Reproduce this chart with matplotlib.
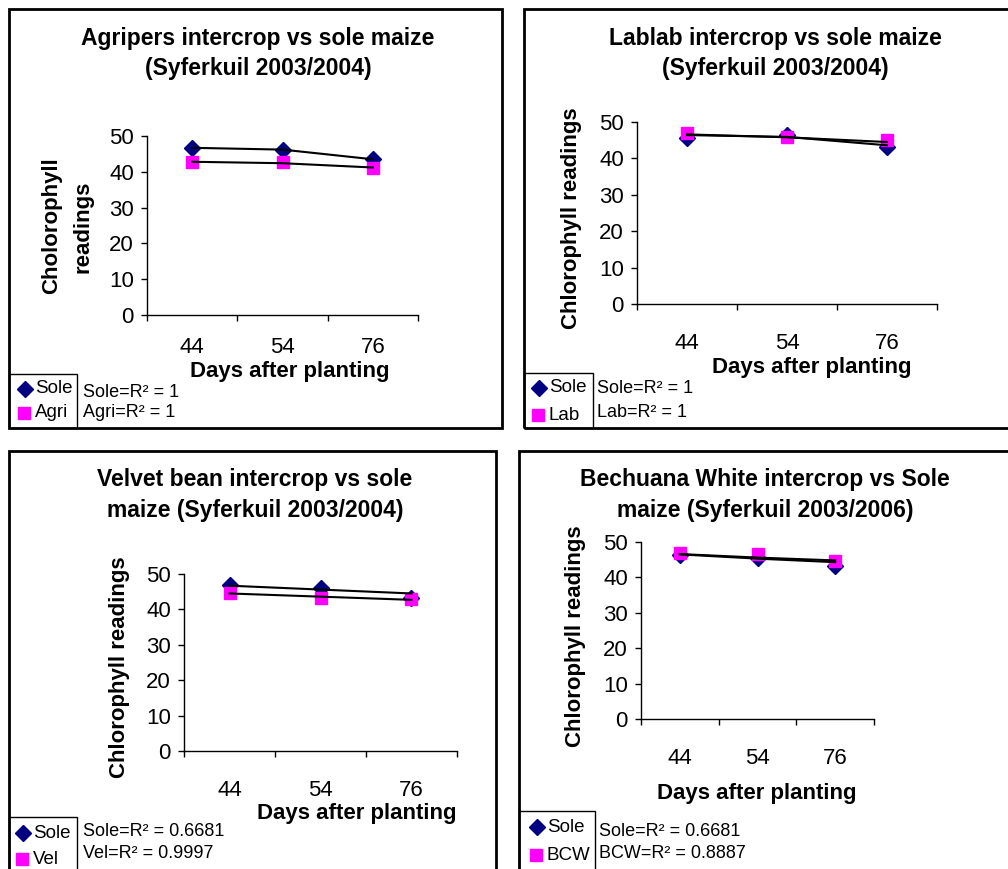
import numpy as np
import matplotlib
matplotlib.use("Agg")
import matplotlib.pyplot as plt
from matplotlib.patches import Rectangle
from matplotlib.lines import Line2D

plt.rcParams["font.family"] = ["Liberation Sans", "DejaVu Sans"]

W, H = 1008, 869

# data
days = ["44", "54", "76"]

agri_sole = [46.7, 46.1, 43.5]
agri_inter = [42.8, 42.6, 41.0]
agri_sole_trend = [46.7, 46.2, 43.5]
agri_inter_trend = [42.8, 42.4, 41.2]

lab_sole = [45.7, 46.3, 43.1]
lab_inter = [47.0, 45.9, 45.0]
lab_sole_trend = [46.4, 45.9, 43.6]
lab_inter_trend = [46.6, 45.8, 44.5]

vel_sole = [46.9, 46.1, 43.3]
vel_inter = [44.7, 43.3, 42.9]
vel_sole_trend = [46.7, 45.6, 44.5]
vel_inter_trend = [44.5, 43.6, 42.7]

bcw_sole = [46.2, 45.6, 43.2]
bcw_inter = [46.9, 46.7, 44.7]
bcw_sole_trend = [46.5, 45.3, 44.3]
bcw_inter_trend = [46.6, 45.6, 44.8]

titles = [
    ["Agripers intercrop vs sole maize", "(Syferkuil 2003/2004)"],
    ["Lablab intercrop vs sole maize", "(Syferkuil 2003/2004)"],
    ["Velvet bean intercrop vs sole", "maize (Syferkuil 2003/2004)"],
    ["Bechuana White intercrop vs Sole", "maize (Syferkuil 2003/2006)"],
]
ylabels = [["Cholorophyll", "readings"], ["Chlorophyll readings"],
           ["Chlorophyll readings"], ["Chlorophyll readings"]]
inter_names = ["Agri", "Lab", "Vel", "BCW"]
r2_sole = ["1", "1", "0.6681", "0.6681"]
r2_inter = ["1", "1", "0.9997", "0.8887"]

series = [
    (agri_sole, agri_inter, agri_sole_trend, agri_inter_trend),
    (lab_sole, lab_inter, lab_sole_trend, lab_inter_trend),
    (vel_sole, vel_inter, vel_sole_trend, vel_inter_trend),
    (bcw_sole, bcw_inter, bcw_sole_trend, bcw_inter_trend),
]

# layout in pixels (x from left, y from top)
panels = [
    dict(box=(9, 9, 502, 428), ax=(147, 136, 418, 315), title_x=258, title_y=(38, 69),
         ylab=[(52, 226), (83, 227)], xlab=(290, 372), xpad=16,
         leg=(9, 374, 77, 428), leg_d=(25, 389), leg_s=(24, 413), leg_tx=35,
         r2=(83, 393, 413)),
    dict(box=(524, 9, 1020, 428), ax=(637, 122, 937, 304), title_x=775, title_y=(38, 69),
         ylab=[(572, 218)], xlab=(812, 367), xpad=21,
         leg=(524, 373, 593, 428), leg_d=(539, 388), leg_s=(538, 415), leg_tx=549,
         r2=(597, 389, 413)),
    dict(box=(9, 451, 496, 880), ax=(184, 574, 457, 751), title_x=255, title_y=(480, 511),
         ylab=[(119, 667)], xlab=(357, 813), xpad=21,
         leg=(9, 817, 77, 880), leg_d=(23, 833), leg_s=(22, 859), leg_tx=33,
         r2=(83, 831, 853)),
    dict(box=(519, 451, 1020, 880), ax=(641, 542, 874, 719), title_x=765, title_y=(480, 511),
         ylab=[(575, 636)], xlab=(757, 794), xpad=21,
         leg=(519, 811, 595, 880), leg_d=(537, 827), leg_s=(536, 855), leg_tx=547,
         r2=(599, 831, 854)),
]


def fx(x):
    return x / W


def fy(y):
    return 1 - y / H


fig = plt.figure(figsize=(W / 100, H / 100), dpi=100)
navy = "#000080"
magenta = "#FF00FF"

for i, p in enumerate(panels):
    sole, inter, sole_tr, inter_tr = series[i]

    x0, y0, x1, y1 = p["box"]
    fig.add_artist(Rectangle((fx(x0), fy(y1)), (x1 - x0) / W, (y1 - y0) / H,
                             transform=fig.transFigure, fill=False, ec="black", lw=2))

    for line, ty in zip(titles[i], p["title_y"]):
        fig.text(fx(p["title_x"]), fy(ty), line, ha="center", va="center",
                 fontsize=16.5, fontweight="bold")

    ax0, ay0, ax1, ay1 = p["ax"]
    ax = fig.add_axes([fx(ax0), fy(ay1), (ax1 - ax0) / W, (ay1 - ay0) / H])
    ax.patch.set_alpha(0)
    ax.set_xlim(-0.5, 2.5)
    ax.set_ylim(0, 50)
    ax.set_yticks(range(0, 51, 10))
    ax.set_xticks([-0.5, 0.5, 1.5, 2.5])
    ax.set_xticklabels([])
    ax.set_xticks([0, 1, 2], minor=True)
    ax.set_xticklabels(days, minor=True)
    ax.tick_params(which="major", length=4.5, width=1, direction="out", labelsize=16, pad=5)
    ax.tick_params(axis="x", which="minor", length=0, labelsize=16, pad=p["xpad"])
    for s in ["top", "right"]:
        ax.spines[s].set_visible(False)
    for s in ["left", "bottom"]:
        ax.spines[s].set_linewidth(1)

    x = np.arange(len(days))
    ax.plot(x, sole, ls="none", marker="D", ms=8, color=navy, clip_on=False, zorder=3)
    ax.plot(x, inter, ls="none", marker="s", ms=9, color=magenta, clip_on=False, zorder=3)
    ax.plot(x, sole_tr, color="black", lw=1.5, zorder=4, clip_on=False)
    ax.plot(x, inter_tr, color="black", lw=1.5, zorder=4, clip_on=False)

    for lab, (lx, ly) in zip(ylabels[i], p["ylab"]):
        fig.text(fx(lx), fy(ly), lab, rotation=90, ha="center", va="center",
                 fontsize=16, fontweight="bold")
    fig.text(fx(p["xlab"][0]), fy(p["xlab"][1]), "Days after planting",
             ha="center", va="center", fontsize=16, fontweight="bold")

    # legend box
    l0, t0, l1, t1 = p["leg"]
    fig.add_artist(Rectangle((fx(l0), fy(t1)), (l1 - l0) / W, (t1 - t0) / H,
                             transform=fig.transFigure, fill=False, ec="black", lw=1))
    fig.add_artist(Line2D([fx(p["leg_d"][0])], [fy(p["leg_d"][1])], marker="D", ms=8,
                          color=navy, ls="none", transform=fig.transFigure))
    fig.add_artist(Line2D([fx(p["leg_s"][0])], [fy(p["leg_s"][1])], marker="s", ms=8,
                          color=magenta, ls="none", transform=fig.transFigure))
    fig.text(fx(p["leg_tx"]), fy(p["leg_d"][1]), "Sole", ha="left", va="center", fontsize=13.5)
    fig.text(fx(p["leg_tx"]), fy(p["leg_s"][1]), inter_names[i], ha="left", va="center",
             fontsize=13.5)

    rx, ry1, ry2 = p["r2"]
    fig.text(fx(rx), fy(ry1), "Sole=R\u00b2 = " + r2_sole[i], ha="left", va="center",
             fontsize=13)
    fig.text(fx(rx), fy(ry2), inter_names[i] + "=R\u00b2 = " + r2_inter[i], ha="left",
             va="center", fontsize=13)

fig.savefig("out.png", dpi=100, facecolor="white")
